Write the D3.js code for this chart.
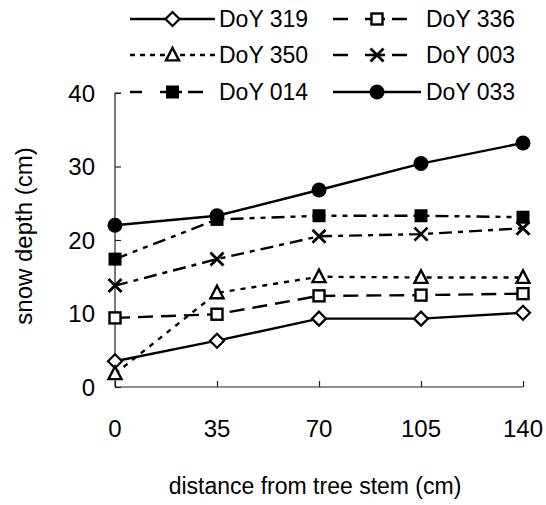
<!DOCTYPE html>
<html>
<head>
<meta charset="utf-8">
<script src="https://cdn.jsdelivr.net/npm/d3@7"></script>
<style>
  html, body { margin: 0; padding: 0; background: #fff; }
  svg { display: block; }
  text { font-family: "Liberation Sans", Arial, sans-serif; fill: #000; }
</style>
</head>
<body>
<svg id="chart" width="546" height="505"></svg>
<script>
// ---- data ----
const distances = [0, 35, 70, 105, 140];
const xTickLabels = ["0", "35", "70", "105", "140"];
const yTicks = [0, 10, 20, 30, 40];
const seriesNames = ["DoY 319", "DoY 336", "DoY 350", "DoY 003", "DoY 014", "DoY 033"];
const doy319 = [3.5, 6.3, 9.3, 9.3, 10.1];
const doy336 = [9.4, 9.9, 12.4, 12.5, 12.7];
const doy350 = [1.8, 12.8, 15.0, 14.9, 14.9];
const doy003 = [13.8, 17.4, 20.5, 20.8, 21.6];
const doy014 = [17.4, 22.8, 23.3, 23.3, 23.1];
const doy033 = [22.0, 23.3, 26.8, 30.4, 33.2];
const seriesValues = [doy319, doy336, doy350, doy003, doy014, doy033];
const markerTypes = ["diamond", "square", "triangle", "cross", "filledSquare", "circle"];
const dashes = [null, "15,8", "5,6", "13,6,5,6", "13,6,5,6,5,6", null];
const legendDashes = [null, "15,17,20,7,15,100", "5,5", "15,17,20,7,15,100", "12,18,22,6,15,100", null];

// ---- layout ----
const svg = d3.select("#chart");
const x = d3.scaleLinear().domain([0, 140]).range([115, 523]);
const y = d3.scaleLinear().domain([0, 40]).range([387, 93]);
const FS = 23;

// axes
const yAxis = d3.axisRight(y).tickValues(yTicks).tickSize(6).tickFormat("");
const gy = svg.append("g").attr("transform", `translate(${x(0)},0)`).call(yAxis);
gy.select(".domain").attr("d", `M6,${y(40)}H0V${y(0)}`);
const xAxis = d3.axisTop(x).tickValues(distances).tickSize(6).tickFormat("");
const gx = svg.append("g").attr("transform", `translate(0,${y(0)})`).call(xAxis);
gx.select(".domain").attr("d", `M${x(0)},0H${x(140)}`);
svg.selectAll(".domain, .tick line").attr("stroke", "#222").attr("stroke-width", 1.2);

// tick labels
svg.append("g").selectAll("text").data(yTicks).join("text")
  .attr("x", x(0) - 20).attr("y", d => y(d)).attr("dy", "0.36em")
  .attr("text-anchor", "end").style("font-size", "24px").text(d => d);
svg.append("g").selectAll("text").data(distances).join("text")
  .attr("x", d => x(d)).attr("y", 437)
  .attr("text-anchor", "middle").style("font-size", "24px")
  .text((d, i) => xTickLabels[i]);

// axis titles
svg.append("text").attr("x", 315).attr("y", 494)
  .attr("text-anchor", "middle").style("font-size", "23px")
  .text("distance from tree stem (cm)");
svg.append("text").attr("transform", "translate(32,236) rotate(-90)")
  .attr("text-anchor", "middle").style("font-size", "24px")
  .text("snow depth (cm)");

// marker drawer
function drawMarker(g, type, cx, cy) {
  if (type === "diamond") {
    const r = 7;
    g.append("path").attr("d", `M${cx},${cy - r}L${cx + r},${cy}L${cx},${cy + r}L${cx - r},${cy}Z`)
      .attr("fill", "#fff").attr("stroke", "#000").attr("stroke-width", 2.2);
  } else if (type === "square") {
    const s = 11;
    g.append("rect").attr("x", cx - s / 2).attr("y", cy - s / 2).attr("width", s).attr("height", s)
      .attr("fill", "#fff").attr("stroke", "#000").attr("stroke-width", 2.4);
  } else if (type === "triangle") {
    const h = 12, w = 13;
    g.append("path").attr("d", `M${cx},${cy - h * 0.6}L${cx + w / 2},${cy + h * 0.45}L${cx - w / 2},${cy + h * 0.45}Z`)
      .attr("fill", "#fff").attr("stroke", "#000").attr("stroke-width", 2.4);
  } else if (type === "cross") {
    const r = 6.5;
    g.append("path").attr("d", `M${cx - r},${cy - r}L${cx + r},${cy + r}M${cx - r},${cy + r}L${cx + r},${cy - r}`)
      .attr("fill", "none").attr("stroke", "#000").attr("stroke-width", 2.8);
  } else if (type === "filledSquare") {
    const s = 13;
    g.append("rect").attr("x", cx - s / 2).attr("y", cy - s / 2).attr("width", s).attr("height", s)
      .attr("fill", "#000");
  } else if (type === "circle") {
    g.append("circle").attr("cx", cx).attr("cy", cy).attr("r", 7.5).attr("fill", "#000");
  }
}

// series
const line = d3.line().x((d, i) => x(distances[i])).y(d => y(d));
const plot = svg.append("g");
seriesValues.forEach((vals, si) => {
  plot.append("path").datum(vals).attr("d", line)
    .attr("fill", "none").attr("stroke", "#000").attr("stroke-width", 2.4)
    .attr("stroke-dasharray", dashes[si]);
});
seriesValues.forEach((vals, si) => {
  const g = plot.append("g");
  vals.forEach((v, i) => drawMarker(g, markerTypes[si], x(distances[i]), y(v)));
});

// legend
const legCols = [{x0: 130, x1: 215, tx: 219}, {x0: 333, x1: 421, tx: 426}];
const legRows = [19, 55, 92];
const leg = svg.append("g");
seriesNames.forEach((name, si) => {
  const c = legCols[si % 2], ry = legRows[Math.floor(si / 2)];
  const g = leg.append("g");
  g.append("line").attr("x1", c.x0).attr("x2", c.x1).attr("y1", ry).attr("y2", ry)
    .attr("stroke", "#000").attr("stroke-width", 2.4).attr("stroke-dasharray", legendDashes[si]);
  drawMarker(g, markerTypes[si], (c.x0 + c.x1) / 2, ry);
  g.append("text").attr("x", c.tx).attr("y", ry).attr("dy", "0.36em")
    .style("font-size", FS + "px").text(name);
});
</script>
</body>
</html>
